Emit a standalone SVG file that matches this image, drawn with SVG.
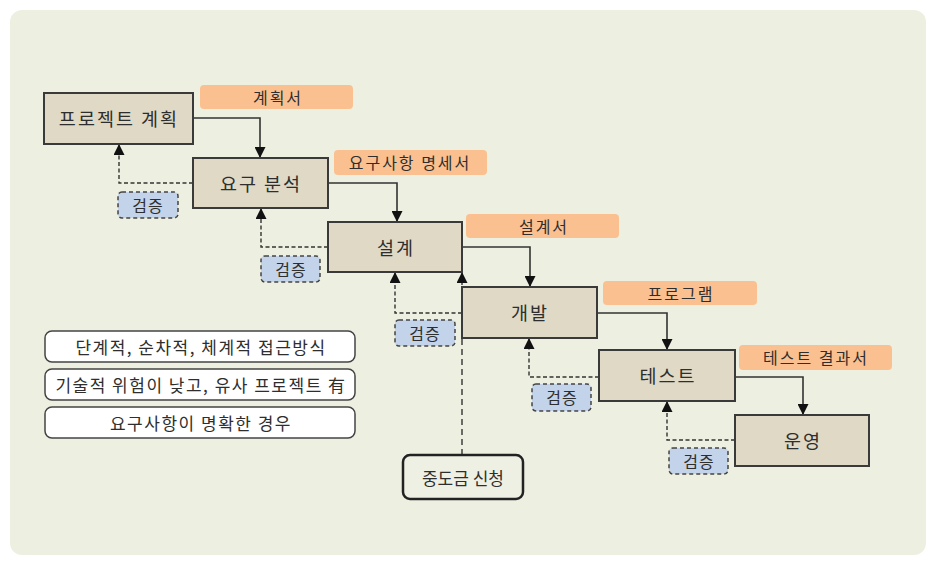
<svg xmlns="http://www.w3.org/2000/svg" width="940" height="566" viewBox="0 0 940 566">
<defs>
<marker id="ah" viewBox="0 0 10 10" refX="10" refY="5" markerWidth="11" markerHeight="11" markerUnits="userSpaceOnUse" orient="auto"><path d="M0,0 L10,5 L0,10 Z" fill="#111"/></marker>
<style>
text{font-family:"Noto Sans CJK KR","Noto Sans",sans-serif;fill:#2e2e2e;text-anchor:middle;dominant-baseline:central}
.node rect{fill:#DFD9C5;stroke:#3a3a3a;stroke-width:2}
.node text{font-size:18.5px;letter-spacing:2px}
.doc rect{fill:#FBC08F}
.doc text{font-size:16px;letter-spacing:2px}
.chk rect{fill:#C3D3EA;stroke:#444;stroke-width:1.5;stroke-dasharray:4 3}
.chk text{font-size:16px;letter-spacing:1px}
.note rect{fill:#fff;stroke:#444;stroke-width:1.5}
.note text{font-size:17px;letter-spacing:1.5px}
.flow{fill:none;stroke:#333;stroke-width:1.6;marker-end:url(#ah)}
.back{fill:none;stroke:#333;stroke-width:1.4;stroke-dasharray:4 2.5;marker-end:url(#ah)}
</style>
</defs>
<rect width="940" height="566" fill="#fff"/>
<rect x="10" y="10" width="916" height="545" rx="12" fill="#EDF0E1"/>

<g id="connectors">
<path class="flow" d="M193,118 H260 V158"/>
<path class="flow" d="M328,183 H397 V222"/>
<path class="flow" d="M462,247 H530 V287"/>
<path class="flow" d="M597,313 H667 V350"/>
<path class="flow" d="M735,377 H803 V415"/>
<path class="back" d="M193,183 H119 V144"/>
<path class="back" d="M328,247 H261 V208"/>
<path class="back" d="M462,313 H395 V272"/>
<path class="back" d="M599,377 H529 V338"/>
<path class="back" d="M735,440 H667 V401"/>
<path class="back" style="stroke-dasharray:6 4" d="M462,455 V272"/>
</g>

<g id="doc1" class="doc"><rect x="200" y="85" width="153" height="24" rx="4"/><text x="278" y="97">계획서</text></g>
<g id="doc2" class="doc"><rect x="334" y="150" width="153" height="25" rx="4"/><text x="410" y="162">요구사항 명세서</text></g>
<g id="doc3" class="doc"><rect x="466" y="214" width="153" height="24" rx="4"/><text x="544" y="226">설계서</text></g>
<g id="doc4" class="doc"><rect x="603" y="281" width="154" height="24" rx="4"/><text x="681" y="293">프로그램</text></g>
<g id="doc5" class="doc"><rect x="739" y="345" width="153" height="25" rx="4"/><text x="816" y="357">테스트 결과서</text></g>

<g id="n1" class="node"><rect x="44" y="93" width="149" height="51"/><text x="119" y="118">프로젝트 계획</text></g>
<g id="n2" class="node"><rect x="193" y="158" width="135" height="50"/><text x="261" y="183">요구 분석</text></g>
<g id="n3" class="node"><rect x="328" y="222" width="134" height="50"/><text x="396" y="247">설계</text></g>
<g id="n4" class="node"><rect x="462" y="287" width="135" height="51"/><text x="530" y="312">개발</text></g>
<g id="n5" class="node"><rect x="599" y="350" width="136" height="51"/><text x="668" y="375">테스트</text></g>
<g id="n6" class="node"><rect x="735" y="415" width="134" height="51"/><text x="803" y="440">운영</text></g>

<g id="c1" class="chk"><rect x="118" y="192" width="60" height="26" rx="4"/><text x="148" y="205">검증</text></g>
<g id="c2" class="chk"><rect x="261" y="256" width="59" height="26" rx="4"/><text x="291" y="269">검증</text></g>
<g id="c3" class="chk"><rect x="395" y="320" width="60" height="26" rx="4"/><text x="425" y="333">검증</text></g>
<g id="c4" class="chk"><rect x="532" y="384" width="59" height="27" rx="4"/><text x="562" y="397">검증</text></g>
<g id="c5" class="chk"><rect x="669" y="448" width="59" height="26" rx="4"/><text x="699" y="461">검증</text></g>

<g id="pay"><rect x="403" y="455" width="120" height="44" rx="7" fill="#EEF0E3" stroke="#222" stroke-width="2.5"/><text x="463" y="477" font-size="17">중도금 신청</text></g>

<g id="note1" class="note"><rect x="45" y="331" width="310" height="31" rx="7"/><text x="201" y="346">단계적, 순차적, 체계적 접근방식</text></g>
<g id="note2" class="note"><rect x="45" y="369" width="310" height="31" rx="7"/><text x="201" y="384">기술적 위험이 낮고, 유사 프로젝트 有</text></g>
<g id="note3" class="note"><rect x="45" y="407" width="310" height="31" rx="7"/><text x="201" y="422">요구사항이 명확한 경우</text></g>
</svg>
